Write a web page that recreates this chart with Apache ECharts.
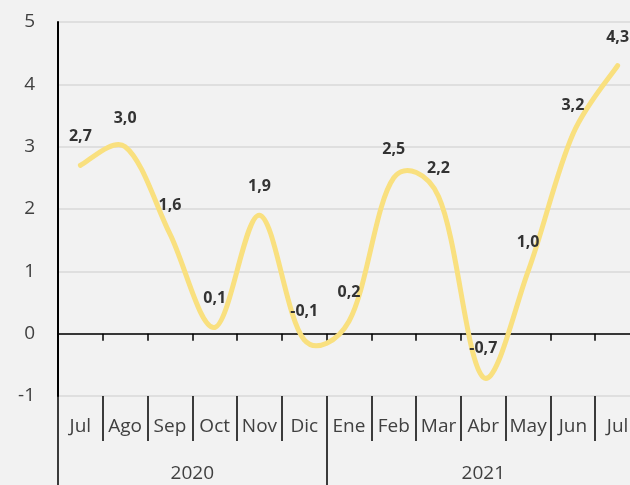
<!DOCTYPE html>
<html>
<head>
<meta charset="utf-8">
<script src="https://cdn.jsdelivr.net/npm/echarts@6/dist/echarts.min.js"></script>
<style>
  html, body { margin: 0; padding: 0; background: #f2f2f2; }
  #chart { width: 630px; height: 485px; }
</style>
</head>
<body>
<div id="chart"></div>
<script>
var months = ['Jul', 'Ago', 'Sep', 'Oct', 'Nov', 'Dic', 'Ene', 'Feb', 'Mar', 'Abr', 'May', 'Jun', 'Jul']
var values = [2.7, 3.0, 1.6, 0.1, 1.9, -0.1, 0.2, 2.5, 2.2, -0.7, 1.0, 3.2, 4.3]
var years = ['2020', '2021']
var yearStarts = [0, 6, 13]   // category index where each year begins / ends

var font = 'Open Sans'
var textColor = '#404040'
var lineColor = '#f9e07f'

var myChart = echarts.init(document.getElementById('chart'))

var yearMid = []
for (var i = 0; i < years.length; i++) {
  yearMid.push((yearStarts[i] + yearStarts[i + 1]) / 2)
}

var points = values.map(function (v, i) { return [i, v] })

// smoothed curve, catmull-rom handles partly weighted by segment lengths
function renderCurve(params, api) {
  if (params.dataIndexInside !== 0) return
  var n = points.length
  var pts = []
  for (var k = 0; k < n; k++) pts.push(api.coord([api.value(0, k), api.value(1, k)]))
  var dist = function (a, b) { return Math.sqrt((a[0] - b[0]) * (a[0] - b[0]) + (a[1] - b[1]) * (a[1] - b[1])) }
  var before = [], after = []
  for (var k = 0; k < n; k++) {
    var p0 = pts[Math.max(0, k - 1)], p1 = pts[k], p2 = pts[Math.min(n - 1, k + 1)]
    var d0 = dist(p0, p1), d1 = dist(p1, p2), s = 1 / 3
    var tx = p2[0] - p0[0], ty = p2[1] - p0[1]
    var w0 = 0.5, w1 = 0.5
    if (k > 0 && k < n - 1) {
      w0 = (0.5 + d0 / (d0 + d1)) / 2
      w1 = (0.5 + d1 / (d0 + d1)) / 2
    }
    before.push([p1[0] - tx * s * w0, p1[1] - ty * s * w0])
    after.push([p1[0] + tx * s * w1, p1[1] + ty * s * w1])
  }
  var d = 'M' + pts[0][0] + ' ' + pts[0][1]
  for (var k = 0; k < n - 1; k++) {
    d += ' C' + after[k][0] + ' ' + after[k][1] + ' ' + before[k + 1][0] + ' ' + before[k + 1][1] +
      ' ' + pts[k + 1][0] + ' ' + pts[k + 1][1]
  }
  return {
    type: 'path',
    shape: { pathData: d },
    style: { stroke: lineColor, lineWidth: 5, fill: null, lineCap: 'round', lineJoin: 'round' }
  }
}

var option = {
  backgroundColor: '#f2f2f2',
  animation: false,
  // plot runs a little past the right edge, like the original
  grid: { left: 58, right: -10, top: 22, bottom: 89, outerBoundsMode: 'none' },
  xAxis: [
    {
      // axis line on zero with small ticks
      type: 'category',
      data: months,
      boundaryGap: true,
      axisLine: { onZero: true, lineStyle: { color: '#000', width: 1.5 } },
      axisTick: { show: true, length: 7, lineStyle: { color: '#000', width: 1.5 } },
      axisLabel: { show: false },
      splitLine: { show: false }
    },
    {
      // month labels with separators
      type: 'category',
      data: months,
      position: 'bottom',
      boundaryGap: true,
      axisLine: { show: false, onZero: false },
      axisTick: { show: true, length: 45, lineStyle: { color: '#000', width: 1.5 } },
      axisLabel: { color: textColor, fontFamily: font, fontSize: 19, margin: 21, interval: 0 },
      splitLine: { show: false }
    },
    {
      // year labels
      type: 'value',
      min: 0,
      max: 13,
      position: 'bottom',
      axisLine: { show: false, onZero: false },
      axisTick: { show: true, length: 90, customValues: yearStarts, lineStyle: { color: '#000', width: 1.5 } },
      axisLabel: {
        color: textColor, fontFamily: font, fontSize: 19, margin: 68,
        customValues: yearMid,
        formatter: function (v) {
          var k = yearMid.indexOf(v)
          return k >= 0 ? years[k] : ''
        }
      },
      splitLine: { show: false }
    }
  ],
  yAxis: {
    type: 'value',
    min: -1,
    max: 5,
    interval: 1,
    axisLine: { show: true, lineStyle: { color: '#000', width: 2 } },
    axisTick: { show: false },
    axisLabel: { color: textColor, fontFamily: font, fontSize: 19, margin: 23 },
    splitLine: { lineStyle: { color: '#d9d9d9', width: 1.5 } }
  },
  series: [
    {
      type: 'custom',
      renderItem: renderCurve,
      data: points,
      z: 1,
      clip: false
    },
    {
      // invisible carrier for the value labels
      type: 'line',
      data: values,
      showSymbol: true,
      symbol: 'circle',
      symbolSize: 1,
      itemStyle: { color: 'rgba(0,0,0,0)' },
      lineStyle: { width: 0, opacity: 0 },
      z: 3,
      label: {
        show: true,
        position: 'top',
        distance: 20,
        color: '#333',
        fontFamily: font,
        fontWeight: 'bold',
        fontSize: 16,
        formatter: function (p) { return p.value.toFixed(1).replace('.', ',') }
      }
    }
  ]
}

myChart.setOption(option)
</script>
</body>
</html>
